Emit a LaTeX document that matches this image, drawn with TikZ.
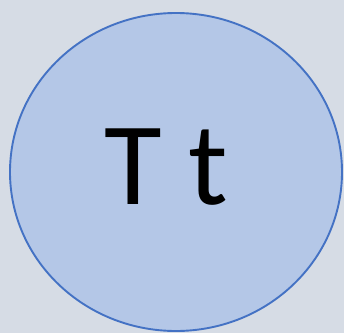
\documentclass[tikz,border=0pt]{standalone}
\usepackage{fontspec}
\setmainfont{Carlito}
\usepackage{tikz}
\usetikzlibrary{shapes.geometric}

\definecolor{bggray}{HTML}{D6DCE5}
\definecolor{cellfill}{HTML}{B4C7E7}
\definecolor{cellline}{HTML}{4472C4}

\begin{document}
\begin{tikzpicture}[x=1pt,y=1pt,
    cell/.style={ellipse,fill=cellfill,draw=cellline,line width=1.9pt,
      inner sep=0pt,minimum width=332pt,minimum height=318pt},
    allele/.style={font=\fontsize{118}{118}\selectfont,anchor=base}]
  \fill[bggray] (0,0) rectangle (344,333);
  \useasboundingbox (0,0) rectangle (344,333);
  \node[cell] (cell) at (176,161) {};
  \node[allele] (tt) at (166,129) {T t};
\end{tikzpicture}
\end{document}
